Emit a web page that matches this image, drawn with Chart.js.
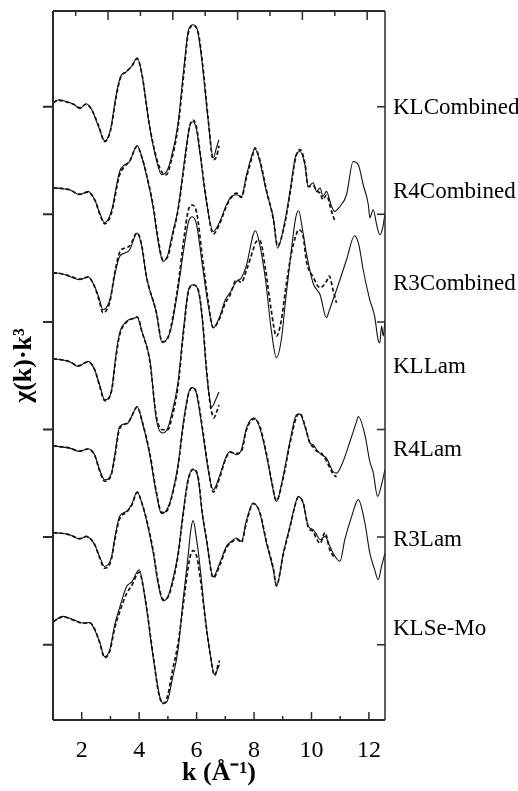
<!DOCTYPE html>
<html>
<head>
<meta charset="utf-8">
<script src="https://cdn.jsdelivr.net/npm/chart.js@4"></script>
<style>
  html, body { margin: 0; padding: 0; background: #fff; }
  canvas { display: block; }
</style>
</head>
<body>
<canvas id="exafs" width="518" height="791"></canvas>
<script>
/* Stacked EXAFS k-space spectra: data (solid) and fit (dashed), offset per sample. */

// k grids and chi(k)k^3 values (relative to each trace's own baseline)
const kKLC = [1.0,1.2,1.5,1.75,1.93,2.15,2.35,2.6,2.8,3.0,3.2,3.35,3.55,3.75,3.93,4.1,4.35,4.6,4.78,4.95,5.1,5.35,5.55,5.72,5.88,6.05,6.2,6.4,6.58,6.7,6.78];
const expKLC = [0,0.28,0.09,-0.19,-0.56,-0.09,-0.65,-2.32,-3.53,-2.51,0.74,2.42,2.88,3.44,4.18,2.6,-2.0,-5.3,-6.69,-6.41,-5.3,-2.0,3.07,6.78,7.25,6.5,3.53,-1.58,-5.11,-4.09,-3.44];
const fitKLC = [0,0.23,0.05,-0.19,-0.46,-0.14,-0.65,-2.23,-3.62,-2.6,0.56,2.32,2.88,3.44,4.09,2.6,-1.95,-5.11,-6.41,-6.69,-5.58,-2.32,2.6,6.6,7.16,6.6,3.81,-1.39,-5.3,-4.95,-4.0];

const kR4C = [1.0,1.3,1.58,1.93,2.22,2.45,2.65,2.8,3.03,3.32,3.5,3.67,3.93,4.1,4.25,4.49,4.65,4.83,5.0,5.15,5.36,5.59,5.75,5.87,6.0,6.11,6.34,6.58,6.81,7.04,7.21,7.39,7.56,7.74,7.97,8.03,8.2,8.43,8.67,8.82,9.05,9.25,9.45,9.6,9.77,9.89,10.06,10.18,10.3,10.4,10.52,10.7,10.8,10.99,11.22,11.45,11.63,11.8,11.98,12.03,12.15,12.27,12.38,12.5,12.56];
const expR4C = [0,-0.09,-0.19,-0.65,-0.34,-1.12,-2.5,-3.25,-2.2,1.51,2.14,2.44,3.93,2.79,1.21,-1.86,-4.83,-6.85,-6.22,-4.37,-1.86,2.79,5.58,6.13,5.39,3.37,-1.27,-4.06,-3.13,-1.58,-0.81,-0.65,-0.81,1.21,3.37,3.62,2.44,-0.34,-2.79,-5.6,-3.44,-0.34,2.97,3.37,2.14,0.12,0.46,-0.34,0,-0.81,-0.34,-1.74,-2.2,-1.74,-0.65,2.44,2.14,0.28,-1.58,-2.79,-2.04,-3.44,-4.37,-3.44,-2.32];
const fitR4C = [0,-0.05,-0.19,-0.6,-0.4,-1.1,-2.6,-3.35,-2.4,1.2,2.0,2.5,3.85,2.79,1.3,-1.7,-4.6,-6.7,-6.4,-4.6,-2.0,2.5,5.6,6.3,5.6,3.5,-1.1,-4.3,-3.3,-1.7,-0.9,-0.5,-0.9,1.0,3.2,3.7,2.6,-0.2,-2.9,-5.4,-3.6,-0.6,2.8,3.55,2.3,0.1,0.2,-0.3,-0.5,-1.1,-0.7,-2.2,-3.0];

const kR3C = [1.0,1.3,1.58,1.93,2.22,2.45,2.6,2.74,2.98,3.15,3.32,3.5,3.67,3.93,4.1,4.25,4.6,4.8,4.95,5.1,5.35,5.55,5.72,5.85,6.0,6.2,6.4,6.58,6.81,7.0,7.16,7.39,7.56,7.74,7.97,8.05,8.2,8.4,8.6,8.78,8.95,9.1,9.3,9.45,9.55,9.7,9.83,10.06,10.3,10.52,10.62,10.75,10.87,10.99,11.22,11.5,11.65,11.8,12.03,12.2,12.32,12.38,12.44,12.5,12.56];
const expR3C = [0,-0.09,-0.34,-0.65,-0.37,-1.27,-2.32,-3.44,-2.51,-0.19,1.51,1.83,2.14,3.69,2.32,-0.34,-3.72,-6.51,-6.23,-5.3,-1.58,2.14,4.74,5.2,4.46,0.74,-2.97,-5.11,-4.06,-2.51,-1.86,-0.81,-0.46,0.74,3.53,3.9,2.6,-0.65,-5.3,-7.9,-6.23,-2.51,2.14,5.11,5.76,3.8,1.7,-1.0,-2.04,-4.18,-3.5,-2.51,-1.6,-0.65,1.21,3.44,2.6,0.28,-2.51,-4.06,-6.23,-6.51,-4.95,-5.88,-4.37];
const fitR3C = [0,-0.09,-0.3,-0.6,-0.4,-1.3,-2.5,-3.72,-2.7,0,1.9,2.3,2.5,3.7,2.4,-0.3,-3.7,-6.4,-6.3,-5.1,-1.2,3.0,5.9,6.3,5.6,1.5,-2.6,-5.1,-4.2,-2.8,-2.1,-0.65,-0.9,0.28,2.14,2.8,3.0,0.3,-3.5,-5.9,-4.4,-1.5,1.8,3.4,4.0,3.5,1.0,-0.4,-1.4,-0.8,-0.3,-1.6,-2.8];

const kKLL = [1.0,1.3,1.58,1.87,2.22,2.45,2.62,2.8,3.03,3.2,3.32,3.56,3.85,3.93,4.1,4.37,4.6,4.83,5.0,5.1,5.35,5.55,5.72,5.88,6.05,6.2,6.34,6.46,6.52,6.6,6.69,6.78];
const expKLL = [0,-0.1,-0.28,-0.71,-0.25,-1.02,-2.4,-3.81,-3.04,0.5,2.4,3.47,3.78,3.87,2.5,-0.09,-5.67,-6.9,-6.41,-5.48,-2.23,2.88,6.41,6.88,6.41,3.62,-1.02,-3.81,-4.55,-4.2,-3.65,-3.1];
const fitKLL = [0,-0.1,-0.28,-0.65,-0.3,-1.0,-2.5,-3.9,-3.1,0.3,2.2,3.4,3.8,3.9,2.5,-0.2,-5.4,-6.6,-6.6,-5.9,-2.6,2.6,6.3,6.85,6.45,3.8,-0.8,-4.0,-4.9,-5.5,-5.0,-4.3];

const kR4L = [1.0,1.3,1.58,1.93,2.22,2.45,2.62,2.8,3.03,3.15,3.32,3.6,3.75,3.93,4.1,4.37,4.6,4.78,4.95,5.1,5.35,5.55,5.72,5.85,6.0,6.2,6.4,6.58,6.8,7.0,7.16,7.39,7.56,7.74,8.0,8.2,8.43,8.6,8.78,9.0,9.25,9.48,9.6,9.77,9.95,10.06,10.18,10.35,10.52,10.75,10.87,11.1,11.34,11.57,11.63,11.86,12.03,12.15,12.3,12.45,12.56];
const expR4L = [0,-0.1,-0.22,-0.53,-0.28,-0.84,-2.2,-3.16,-2.6,-0.9,1.79,2.1,2.8,3.65,2.3,-0.84,-4.5,-6.32,-6.0,-5.0,-1.8,2.4,4.9,5.4,4.8,1.5,-2.2,-4.09,-2.8,-1.2,-0.53,-0.84,-0.37,1.67,2.6,1.67,-0.84,-3.2,-5.18,-3.0,0.4,2.88,2.94,1.8,0.25,0.09,-0.37,-0.84,-1.15,-2.39,-2.54,-1.46,0.4,2.26,2.72,1.02,-1.46,-2.5,-4.7,-3.5,-2.2];
const fitR4L = [0,-0.1,-0.2,-0.5,-0.3,-0.9,-2.3,-3.3,-2.7,-1.1,1.6,2.1,2.8,3.6,2.3,-0.7,-4.3,-6.2,-6.1,-5.1,-2.0,2.2,4.8,5.4,4.9,1.7,-2.0,-4.3,-3.0,-1.3,-0.6,-0.7,-0.5,1.5,2.5,1.8,-0.7,-3.1,-5.1,-3.2,0.2,2.7,3.0,1.9,0.2,-0.1,-0.5,-0.7,-1.4,-2.6,-2.9];

const kR3L = [1.0,1.3,1.58,1.93,2.16,2.45,2.62,2.8,3.03,3.15,3.32,3.56,3.75,3.93,4.1,4.25,4.49,4.65,4.83,5.0,5.15,5.36,5.5,5.7,5.88,6.05,6.2,6.34,6.58,6.81,7.04,7.21,7.39,7.56,7.74,7.97,8.2,8.43,8.67,8.78,9.02,9.25,9.48,9.54,9.71,9.89,10.06,10.18,10.3,10.47,10.64,10.82,10.99,11.16,11.4,11.63,11.86,12.03,12.2,12.32,12.44,12.56];
const expR3L = [0,-0.05,-0.19,-0.59,-0.34,-1.12,-2.2,-3.14,-2.35,-0.5,1.52,1.98,2.7,3.8,2.7,1.21,-1.88,-4.6,-6.33,-5.95,-4.6,-1.86,1.21,4.93,5.85,5.11,1.67,-0.65,-4.09,-2.8,-1.27,-0.81,-0.49,-0.81,1.21,2.76,1.84,-0.95,-3.44,-4.99,-1.88,0.59,3.07,3.38,2.76,0.59,0.28,-0.19,-0.65,-0.34,-1.27,-2.2,-2.66,-0.65,1.52,3.07,0.9,-1.88,-3.44,-4.37,-3.13,-1.88];
const fitR3L = [0,-0.05,-0.2,-0.55,-0.35,-1.1,-2.3,-3.3,-2.5,-0.7,1.3,1.9,2.6,3.75,2.7,1.3,-1.7,-4.4,-6.2,-6.0,-4.8,-2.0,1.0,4.8,5.9,5.2,1.8,-0.5,-4.2,-3.0,-1.4,-0.9,-0.6,-0.9,1.0,2.7,1.9,-0.8,-3.3,-4.9,-2.0,0.5,3.0,3.3,2.8,0.5,0.1,-0.6,-1.0,0.0,-1.6,-2.4];

const kKLS = [1.0,1.35,1.7,2.05,2.28,2.45,2.62,2.8,2.98,3.15,3.32,3.56,3.75,4.0,4.2,4.5,4.7,4.85,5.0,5.15,5.36,5.53,5.7,5.8,5.88,6.0,6.12,6.3,6.45,6.63,6.75,6.8];
const expKLS = [0,0.49,0.19,-0.12,-0.09,-0.74,-1.86,-3.25,-2.6,-0.28,1.3,3.25,3.72,4.83,2.23,-3.53,-6.78,-7.62,-7.25,-5.39,-2.5,2.0,6.0,8.55,9.39,7.62,5.11,0.37,-2.6,-4.93,-4.28,-4.0];
const fitKLS = [0,0.45,0.15,-0.15,-0.1,-0.7,-1.9,-3.35,-2.7,-0.6,0.9,2.6,3.4,4.6,2.3,-3.4,-6.9,-7.6,-6.8,-4.7,-1.9,1.5,4.9,6.3,6.6,6.1,4.2,0.3,-2.6,-5.0,-4.0,-3.6];

// trace names, vertical offsets and label levels (y units)
const traceNames = ['KLCombined', 'R4Combined', 'R3Combined', 'KLLam', 'R4Lam', 'R3Lam', 'KLSe-Mo'];
const traceOffsets = [50.37, 42.47, 34.57, 26.58, 18.49, 10.41, 2.14];
const labelLevels = [49.9, 42.05, 33.5, 25.8, 18.1, 9.7, 1.44];

// axis ticks
const xMajor = [2, 4, 6, 8, 10, 12];
const xMinor = [3, 5, 7, 9, 11];
const topMajor = [2, 4, 6, 8, 10];
const topMinor = [1, 3, 5, 7, 9];
const yTicks = [0, 10, 20, 30, 40, 50];

const traces = [
  [kKLC, expKLC, fitKLC], [kR4C, expR4C, fitR4C], [kR3C, expR3C, fitR3C],
  [kKLL, expKLL, fitKLL], [kR4L, expR4L, fitR4L], [kR3L, expR3L, fitR3L],
  [kKLS, expKLS, fitKLS],
];

const SERIF = '"Liberation Serif", "Times New Roman", serif';
Chart.defaults.font.family = SERIF;
Chart.defaults.color = '#000';

const datasets = [];
traces.forEach(([k, exp, fit], i) => {
  const off = traceOffsets[i];
  datasets.push({
    label: traceNames[i] + ' fit',
    data: fit.map((v, j) => ({ x: k[j], y: v + off })),
    borderColor: '#111', borderWidth: 1.7, borderDash: [4, 2.5],
    pointRadius: 0, cubicInterpolationMode: 'monotone', fill: false,
  });
  datasets.push({
    label: traceNames[i],
    data: exp.map((v, j) => ({ x: k[j], y: v + off })),
    borderColor: '#111', borderWidth: 1.1,
    pointRadius: 0, cubicInterpolationMode: 'monotone', fill: false,
  });
});

const frameTicks = {
  id: 'frameTicks',
  afterDraw(chart) {
    const { ctx, chartArea: a, scales } = chart;
    const line = (x1, y1, x2, y2) => { ctx.moveTo(x1, y1); ctx.lineTo(x2, y2); };
    ctx.save();
    ctx.strokeStyle = '#2b2b2b';
    ctx.lineWidth = 2;
    ctx.beginPath();
    line(a.left, a.top, a.right, a.top);
    line(a.left, a.top, a.left, a.bottom);
    line(a.left, a.bottom, a.right, a.bottom);
    for (const v of yTicks) {
      const y = scales.y.getPixelForValue(v);
      line(a.left - 10, y, a.left, y);
    }
    ctx.stroke();
    ctx.lineWidth = 1.5;
    ctx.beginPath();
    line(a.right, a.top, a.right, a.bottom);
    for (const v of yTicks) {
      const y = scales.y.getPixelForValue(v);
      line(a.right - 8, y, a.right, y);
    }
    for (const v of xMajor) {
      const x = scales.x.getPixelForValue(v);
      line(x, a.bottom, x, a.bottom - 8);
    }
    for (const v of xMinor) {
      const x = scales.x.getPixelForValue(v);
      line(x, a.bottom, x, a.bottom - 4);
    }
    for (const v of topMajor) {
      const x = scales.x2.getPixelForValue(v);
      line(x, a.top, x, a.top + 9);
    }
    for (const v of topMinor) {
      const x = scales.x2.getPixelForValue(v);
      line(x, a.top, x, a.top + 5);
    }
    ctx.stroke();
    ctx.restore();
  },
};

const noGrid = { display: false, drawTicks: false };
// fixed box sizes so the plot frame lands where the original has it
const fixH = (h) => (s) => { s.height = h; s.paddingLeft = 0; s.paddingRight = 0; };
const fixW = (w) => (s) => { s.width = w; s.paddingTop = 0; s.paddingBottom = 0; };

new Chart(document.getElementById('exafs'), {
  type: 'line',
  data: { datasets },
  plugins: [frameTicks],
  options: {
    responsive: false,
    animation: false,
    layout: { padding: 0 },
    plugins: { legend: { display: false }, tooltip: { enabled: false } },
    scales: {
      x: {
        type: 'linear', position: 'bottom', min: 1, max: 12.56,
        grid: noGrid, border: { display: false },
        afterBuildTicks: (s) => { s.ticks = xMajor.map((v) => ({ value: v })); },
        afterFit: fixH(71),
        ticks: { padding: 16, font: { size: 24 }, color: '#000', maxRotation: 0 },
        title: {
          display: true, text: 'k (Å\u207B\u00B9)', color: '#000',
          font: { size: 26, weight: 'bold' }, padding: { top: 0, bottom: 2 },
        },
      },
      x2: {
        type: 'linear', position: 'top', min: 0.3, max: 10.55,
        grid: noGrid, border: { display: false },
        ticks: { display: false },
        afterFit: fixH(11),
      },
      y: {
        type: 'linear', position: 'left', min: -7, max: 58.9,
        grid: noGrid, border: { display: false },
        afterBuildTicks: (s) => { s.ticks = yTicks.map((v) => ({ value: v })); },
        afterFit: fixW(53),
        ticks: { display: false },
        title: {
          display: true, text: 'χ(k)·k³', color: '#000',
          font: { size: 26, weight: 'bold' }, padding: { top: 9, bottom: 0 },
        },
      },
      yR: {
        type: 'linear', position: 'right', min: -7, max: 58.9,
        grid: noGrid, border: { display: false },
        afterBuildTicks: (s) => { s.ticks = labelLevels.map((v) => ({ value: v })); },
        afterFit: fixW(133),
        ticks: {
          autoSkip: false, padding: 8, font: { size: 23 }, color: '#000',
          callback: (v, i) => traceNames[i],
        },
      },
    },
  },
});
</script>
</body>
</html>
